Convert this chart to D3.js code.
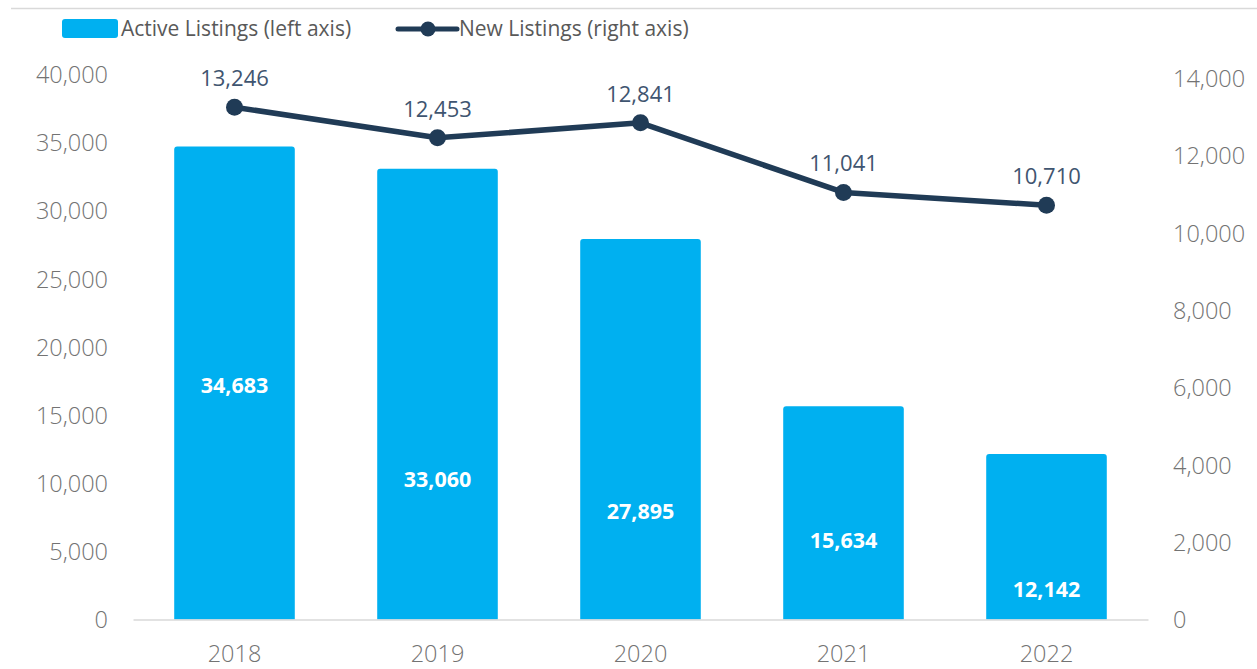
<!DOCTYPE html>
<html>
<head>
<meta charset="utf-8">
<script src="https://cdn.jsdelivr.net/npm/d3@7"></script>
<style>
  html, body { margin: 0; padding: 0; background: #ffffff; }
  svg { display: block; }
  text { font-family: "Open Sans", "Liberation Sans", sans-serif; }
</style>
</head>
<body>
<svg id="chart" width="1257" height="669"></svg>
<script>
// ---- data ----
const years = ["2018", "2019", "2020", "2021", "2022"];
const activeListings = [34683, 33060, 27895, 15634, 12142];
const newListings = [13246, 12453, 12841, 11041, 10710];
// where each bar's value label sits, in left-axis units
const activeLabelAnchor = [17200, 10250, 7950, 5800, 2250];
const leftTicks = [0, 5000, 10000, 15000, 20000, 25000, 30000, 35000, 40000];
const rightTicks = [0, 2000, 4000, 6000, 8000, 10000, 12000, 14000];
const legendLabels = ["Active Listings (left axis)", "New Listings (right axis)"];

// ---- styles ----
const barColor = "#00B0F0";
const lineColor = "#203B56";
const lineLabelColor = "#3F5570";
const axisTextColor = "#737373";
const legendTextColor = "#595959";
const fmt = d3.format(",");

const svg = d3.select("#chart");

const x = d3.scaleBand().domain(years).range([133, 1148])
  .paddingInner(0.406).paddingOuter(0.203);
const yL = d3.scaleLinear().domain([0, 40000]).range([619.5, 74]);
const yR = d3.scaleLinear().domain([0, 14000]).range([619.5, 78]);

// top separator line
svg.append("line").attr("x1", 11).attr("x2", 1257).attr("y1", 8.5).attr("y2", 8.5)
  .attr("stroke", "#D9D9D9").attr("stroke-width", 1.5);

// left axis
const axL = svg.append("g").attr("transform", "translate(108,0)")
  .call(d3.axisLeft(yL).tickValues(leftTicks).tickFormat(fmt).tickSize(0).tickPadding(0));
axL.select(".domain").remove();
axL.selectAll("text").attr("fill", axisTextColor).style("font-size", "23.5px")
  .style("font-weight", 300).attr("dy", "0.36em");

// right axis
const axR = svg.append("g").attr("transform", "translate(1173,0)")
  .call(d3.axisRight(yR).tickValues(rightTicks).tickFormat(fmt).tickSize(0).tickPadding(0));
axR.select(".domain").remove();
axR.selectAll("text").attr("fill", axisTextColor).style("font-size", "23.5px")
  .style("font-weight", 300).attr("dy", "0.36em");

// bars
svg.append("g").selectAll("path").data(years).join("path")
  .attr("fill", barColor)
  .attr("d", (d, i) => {
    const x0 = x(d), w = x.bandwidth(), y0 = yL(activeListings[i]), y1 = yL(0), r = 3;
    return `M${x0},${y1}V${y0 + r}Q${x0},${y0} ${x0 + r},${y0}H${x0 + w - r}Q${x0 + w},${y0} ${x0 + w},${y0 + r}V${y1}Z`;
  });

// bottom axis
const axB = svg.append("g").attr("transform", `translate(0,${yL(0)})`)
  .call(d3.axisBottom(x).tickSize(0).tickPadding(0));
axB.select(".domain").attr("stroke", "#D9D9D9").attr("stroke-width", 1.5);
axB.selectAll("text").attr("fill", axisTextColor).style("font-size", "23.5px")
  .style("font-weight", 300).attr("dy", "0").attr("y", 42);

// bar value labels
svg.append("g").selectAll("text").data(years).join("text")
  .attr("x", d => x(d) + x.bandwidth() / 2)
  .attr("y", (d, i) => yL(activeLabelAnchor[i]))
  .attr("dy", "0.36em")
  .attr("text-anchor", "middle")
  .attr("fill", "#ffffff").style("font-size", "21.5px").style("font-weight", 700)
  .text((d, i) => fmt(activeListings[i]));

// line
const cx = d => x(d) + x.bandwidth() / 2;
svg.append("path")
  .datum(years)
  .attr("fill", "none").attr("stroke", lineColor).attr("stroke-width", 5.5)
  .attr("stroke-linejoin", "round")
  .attr("d", d3.line().x(d => cx(d)).y((d, i) => yR(newListings[i])));
svg.append("g").selectAll("circle").data(years).join("circle")
  .attr("cx", d => cx(d)).attr("cy", (d, i) => yR(newListings[i])).attr("r", 8.5)
  .attr("fill", lineColor);
svg.append("g").selectAll("text").data(years).join("text")
  .attr("x", d => cx(d)).attr("y", (d, i) => yR(newListings[i]) - 21)
  .attr("text-anchor", "middle").attr("fill", lineLabelColor)
  .style("font-size", "22px")
  .text((d, i) => fmt(newListings[i]));

// legend
const lg = svg.append("g");
lg.append("rect").attr("x", 62).attr("y", 19).attr("width", 56).attr("height", 19)
  .attr("rx", 3).attr("fill", barColor);
lg.append("text").attr("x", 121).attr("y", 36).attr("fill", legendTextColor)
  .style("font-size", "21px").text(legendLabels[0]);
lg.append("line").attr("x1", 398).attr("x2", 457).attr("y1", 29).attr("y2", 29)
  .attr("stroke", lineColor).attr("stroke-width", 5).attr("stroke-linecap", "round");
lg.append("circle").attr("cx", 428).attr("cy", 29).attr("r", 7.5).attr("fill", lineColor);
lg.append("text").attr("x", 459).attr("y", 36).attr("fill", legendTextColor)
  .style("font-size", "21px").text(legendLabels[1]);
</script>
</body>
</html>
